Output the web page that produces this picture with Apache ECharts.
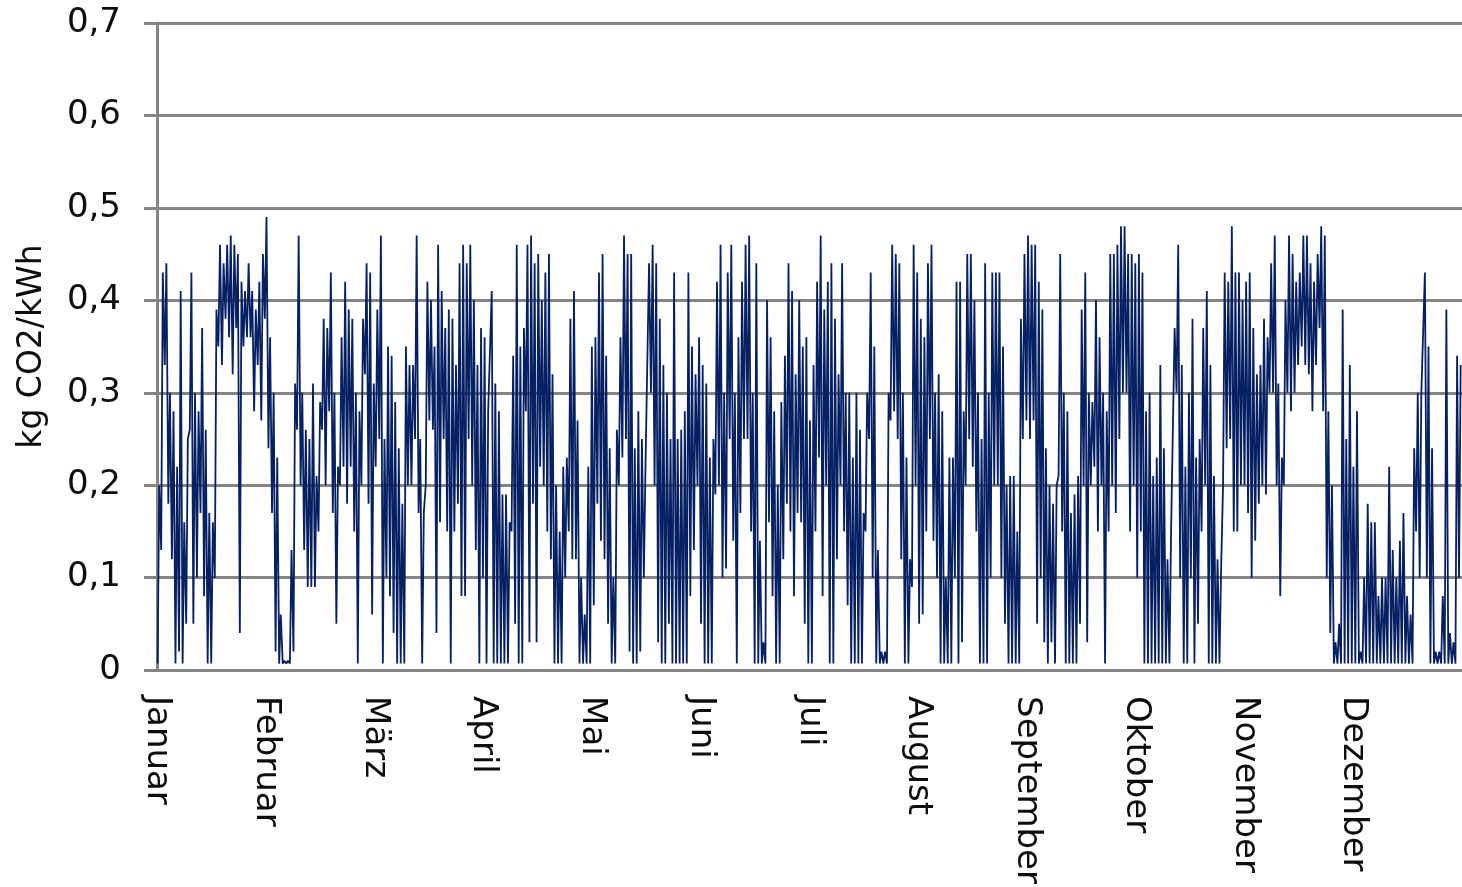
<!DOCTYPE html>
<html>
<head>
<meta charset="utf-8">
<title>kg CO2/kWh</title>
<script src="https://cdn.jsdelivr.net/npm/echarts@6/dist/echarts.min.js"></script>
<style>
  html, body { margin: 0; padding: 0; background: #ffffff; }
  #chart { width: 1462px; height: 887px; }
</style>
</head>
<body>
<div id="chart"></div>
<script>
// Month names used as x-axis labels (one per 730-hour block)
const months = ['Januar', 'Februar', 'März', 'April', 'Mai', 'Juni', 'Juli',
                'August', 'September', 'Oktober', 'November', 'Dezember'];

// Y-axis tick labels (German decimal comma)
const yTicks = ['0', '0,1', '0,2', '0,3', '0,4', '0,5', '0,6', '0,7'];

// Daily peak values, kg CO2/kWh (day 1 .. day 365)
const dayHigh = [
  0.20,0.43,0.44,0.30,0.28,0.22,0.41,0.16,0.25,0.43,
  0.30,0.28,0.37,0.26,0.17,0.16,0.39,0.46,0.44,0.46,
  0.47,0.46,0.45,0.42,0.41,0.44,0.41,0.39,0.42,0.45,
  0.49,0.36,0.30,0.23,0.06,0.01,0.01,0.13,0.31,0.47,
  0.30,0.26,0.25,0.31,0.21,0.29,0.38,0.37,0.43,0.30,
  0.22,0.36,0.42,0.39,0.38,0.30,0.28,0.38,0.44,0.43,
  0.31,0.39,0.47,0.25,0.35,0.34,0.29,0.24,0.18,0.35,
  0.33,0.33,0.47,0.25,0.17,0.42,0.40,0.35,0.46,0.41,
  0.37,0.39,0.38,0.33,0.44,0.46,0.44,0.46,0.40,0.33,
  0.37,0.36,0.28,0.41,0.31,0.28,0.19,0.19,0.16,0.34,
  0.46,0.35,0.37,0.46,0.47,0.44,0.45,0.40,0.43,0.45,
  0.32,0.20,0.15,0.22,0.23,0.38,0.41,0.27,0.10,0.06,
  0.22,0.35,0.36,0.43,0.45,0.34,0.24,0.10,0.26,0.36,
  0.47,0.45,0.45,0.24,0.28,0.25,0.22,0.44,0.46,0.44,
  0.38,0.33,0.30,0.25,0.43,0.25,0.26,0.28,0.43,0.35,
  0.32,0.36,0.33,0.31,0.23,0.25,0.42,0.46,0.30,0.43,
  0.46,0.30,0.36,0.42,0.46,0.47,0.30,0.44,0.14,0.03,
  0.40,0.36,0.28,0.20,0.29,0.34,0.44,0.41,0.32,0.40,
  0.35,0.36,0.27,0.33,0.42,0.47,0.39,0.42,0.44,0.38,
  0.32,0.44,0.30,0.30,0.23,0.30,0.26,0.17,0.30,0.43,
  0.35,0.13,0.02,0.02,0.30,0.46,0.45,0.44,0.30,0.23,
  0.12,0.46,0.43,0.38,0.36,0.44,0.46,0.30,0.32,0.28,
  0.10,0.23,0.23,0.42,0.42,0.28,0.45,0.45,0.40,0.30,
  0.25,0.44,0.30,0.43,0.43,0.43,0.35,0.20,0.21,0.21,
  0.15,0.38,0.45,0.47,0.46,0.46,0.42,0.39,0.24,0.20,
  0.18,0.20,0.45,0.30,0.28,0.17,0.19,0.21,0.39,0.43,
  0.30,0.29,0.40,0.36,0.30,0.28,0.45,0.45,0.46,0.48,
  0.48,0.45,0.45,0.44,0.45,0.43,0.28,0.30,0.21,0.23,
  0.33,0.24,0.12,0.15,0.37,0.46,0.33,0.22,0.30,0.38,
  0.23,0.25,0.37,0.41,0.33,0.21,0.12,0.11,0.43,0.42,
  0.48,0.43,0.43,0.40,0.42,0.43,0.37,0.32,0.33,0.38,
  0.36,0.44,0.47,0.31,0.23,0.40,0.47,0.45,0.42,0.43,
  0.47,0.47,0.44,0.42,0.45,0.48,0.47,0.28,0.20,0.03,
  0.05,0.39,0.25,0.33,0.22,0.28,0.02,0.10,0.18,0.16,
  0.16,0.08,0.10,0.10,0.22,0.13,0.10,0.14,0.17,0.08,
  0.06,0.24,0.30,0.30,0.43,0.35,0.24,0.02,0.02,0.08,
  0.39,0.04,0.03,0.34,0.33
];

// Daily minimum values, kg CO2/kWh (day 1 .. day 365)
const dayLow = [
  0.007,0.13,0.33,0.18,0.12,0.007,0.02,0.007,0.05,0.26,
  0.05,0.10,0.17,0.08,0.007,0.007,0.10,0.35,0.33,0.38,
  0.36,0.32,0.37,0.04,0.35,0.36,0.36,0.28,0.33,0.27,
  0.38,0.24,0.17,0.02,0.007,0.007,0.007,0.007,0.02,0.26,
  0.20,0.13,0.09,0.09,0.09,0.15,0.26,0.20,0.28,0.17,
  0.05,0.20,0.22,0.18,0.22,0.15,0.007,0.20,0.32,0.18,
  0.06,0.22,0.25,0.007,0.10,0.08,0.04,0.007,0.007,0.007,
  0.20,0.20,0.25,0.17,0.007,0.20,0.27,0.26,0.04,0.16,
  0.25,0.15,0.007,0.15,0.18,0.08,0.08,0.25,0.20,0.13,
  0.007,0.10,0.007,0.28,0.007,0.007,0.007,0.007,0.007,0.15,
  0.05,0.007,0.007,0.28,0.03,0.18,0.03,0.22,0.20,0.15,
  0.12,0.007,0.007,0.007,0.10,0.15,0.12,0.12,0.007,0.007,
  0.007,0.007,0.07,0.18,0.14,0.12,0.05,0.007,0.007,0.20,
  0.23,0.25,0.02,0.007,0.007,0.02,0.10,0.22,0.30,0.20,
  0.03,0.007,0.007,0.05,0.007,0.007,0.007,0.007,0.007,0.08,
  0.13,0.20,0.05,0.007,0.007,0.007,0.19,0.20,0.10,0.11,
  0.25,0.14,0.007,0.17,0.25,0.25,0.15,0.007,0.007,0.007,
  0.007,0.16,0.08,0.007,0.007,0.12,0.18,0.15,0.08,0.17,
  0.16,0.05,0.007,0.007,0.15,0.23,0.08,0.20,0.007,0.007,
  0.12,0.20,0.15,0.07,0.007,0.007,0.007,0.007,0.15,0.25,
  0.10,0.007,0.007,0.007,0.007,0.27,0.28,0.25,0.12,0.007,
  0.007,0.09,0.20,0.05,0.06,0.15,0.25,0.14,0.10,0.007,
  0.007,0.007,0.007,0.10,0.007,0.03,0.20,0.25,0.22,0.15,
  0.007,0.007,0.007,0.10,0.20,0.20,0.10,0.05,0.007,0.007,
  0.007,0.007,0.25,0.27,0.25,0.27,0.05,0.10,0.03,0.007,
  0.03,0.007,0.21,0.15,0.007,0.007,0.007,0.007,0.05,0.20,
  0.03,0.20,0.22,0.15,0.20,0.007,0.15,0.20,0.17,0.25,
  0.30,0.30,0.15,0.20,0.10,0.15,0.007,0.007,0.007,0.007,
  0.007,0.007,0.007,0.007,0.15,0.30,0.10,0.007,0.007,0.10,
  0.007,0.05,0.15,0.20,0.007,0.007,0.007,0.007,0.20,0.24,
  0.25,0.15,0.15,0.20,0.20,0.17,0.10,0.14,0.18,0.20,
  0.19,0.30,0.30,0.20,0.08,0.20,0.30,0.28,0.30,0.33,
  0.35,0.33,0.32,0.28,0.33,0.37,0.28,0.10,0.04,0.007,
  0.007,0.007,0.007,0.007,0.007,0.007,0.007,0.007,0.007,0.007,
  0.007,0.007,0.007,0.007,0.007,0.007,0.007,0.007,0.007,0.007,
  0.007,0.007,0.15,0.10,0.30,0.10,0.007,0.007,0.007,0.007,
  0.007,0.007,0.007,0.007,0.10
];

const HOURS_PER_MONTH = 730;   // 8760 h / 12
const HOURS_PER_YEAR = 8760;

// Night minimum early in the day, peak in the afternoon
const seriesData = [];
for (let d = 0; d < dayHigh.length; d++) {
  seriesData.push([d * 24 + 4, dayLow[d]]);
  seriesData.push([d * 24 + 15, dayHigh[d]]);
}

const FONT = 'DejaVu Sans, Verdana, sans-serif';
const GRID_GREY = '#858585';
const TEXT = '#0d0d0d';

const chart = echarts.init(document.getElementById('chart'), null, { renderer: 'canvas' });
chart.setOption({
  animation: false,
  backgroundColor: '#ffffff',
  grid: { left: 157, right: 0, top: 23, bottom: 215, containLabel: false },
  xAxis: {
    type: 'value',
    min: 0,
    max: HOURS_PER_YEAR,
    interval: HOURS_PER_MONTH,
    axisLine: { show: true, lineStyle: { color: GRID_GREY, width: 3 } },
    axisTick: { show: false },
    splitLine: { show: false },
    axisLabel: {
      rotate: -90,
      margin: 26,
      fontFamily: FONT,
      fontSize: 34,
      color: TEXT,
      showMaxLabel: false,
      formatter: v => months[Math.round(v / HOURS_PER_MONTH)] || ''
    }
  },
  yAxis: {
    type: 'value',
    min: 0,
    max: 0.7,
    interval: 0.1,
    name: 'kg CO2/kWh',
    nameLocation: 'middle',
    nameRotate: 90,
    nameGap: 108,
    nameTextStyle: { fontFamily: FONT, fontSize: 33, color: TEXT },
    axisLine: { show: true, lineStyle: { color: GRID_GREY, width: 3 } },
    axisTick: { show: true, length: 13, lineStyle: { color: GRID_GREY, width: 3 } },
    splitLine: { show: true, lineStyle: { color: GRID_GREY, width: 3 } },
    axisLabel: {
      margin: 36,
      fontFamily: FONT,
      fontSize: 34,
      color: TEXT,
      formatter: v => yTicks[Math.round(v * 10)]
    }
  },
  series: [{
    type: 'line',
    data: seriesData,
    showSymbol: false,
    symbol: 'none',
    sampling: null,
    lineStyle: { color: '#062063', width: 1.8 },
    z: 3
  }]
});
</script>
</body>
</html>
